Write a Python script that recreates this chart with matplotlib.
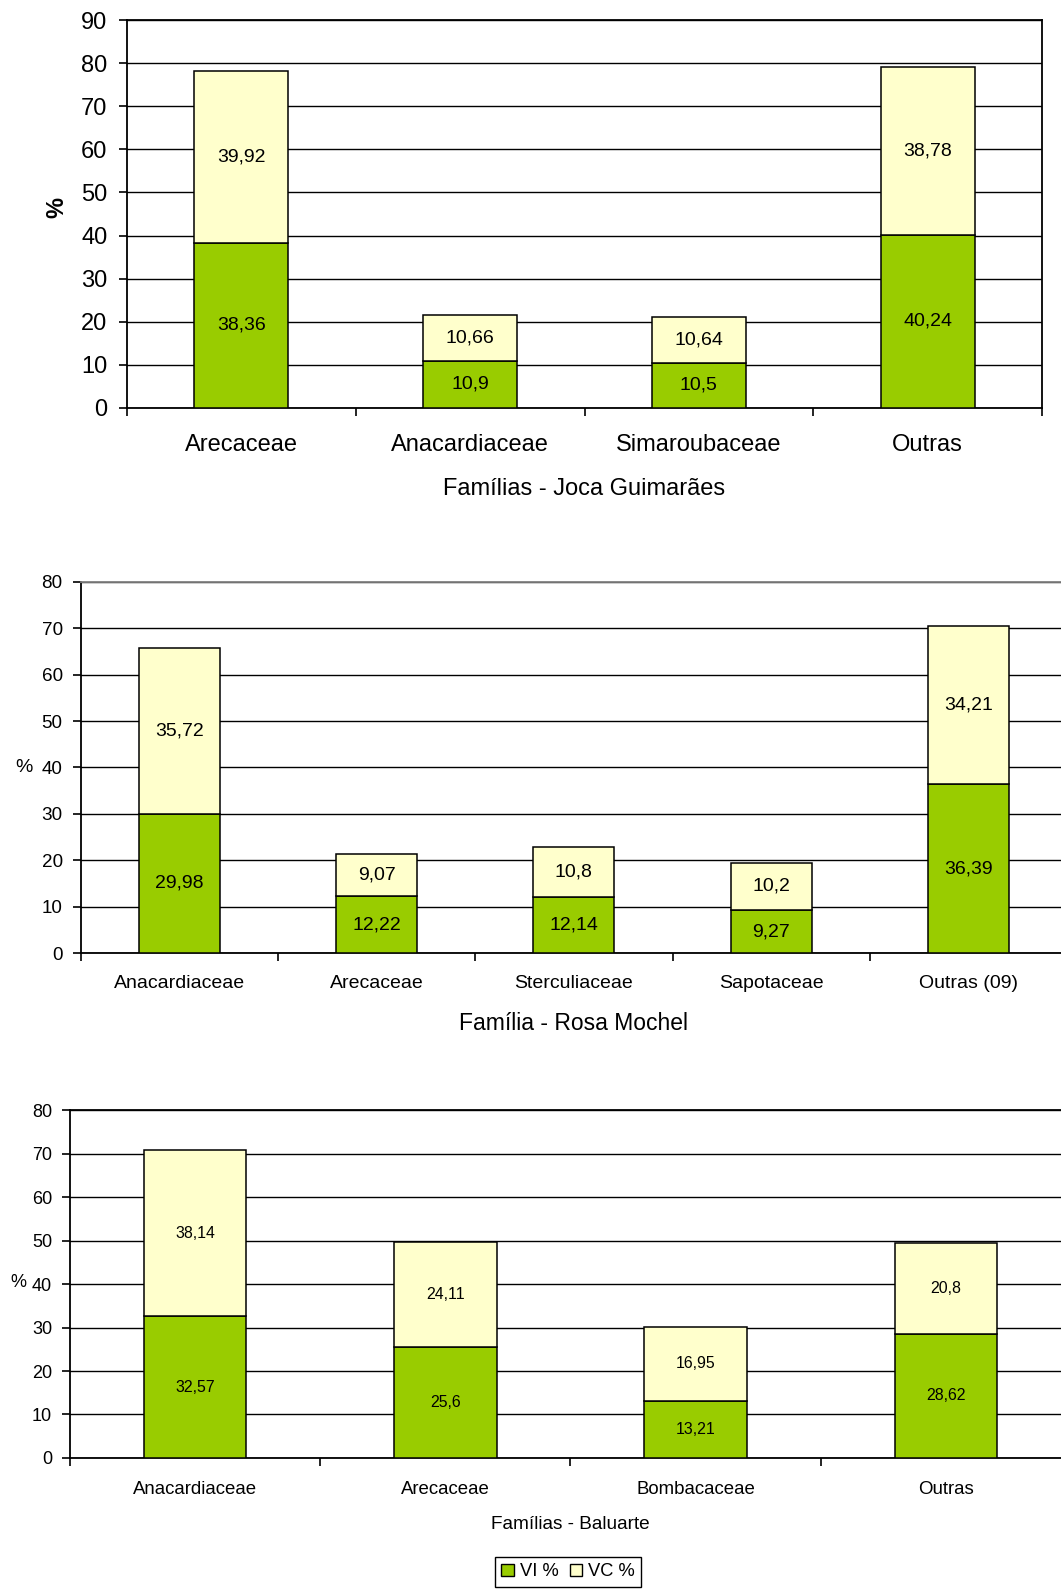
import numpy as np
import matplotlib.pyplot as plt
from matplotlib.patches import Patch

plt.rcParams['font.family'] = ['Liberation Sans', 'DejaVu Sans']

green = '#99CC00'
cream = '#FFFFCC'

# Joca Guimarães
cats_joca = ['Arecaceae', 'Anacardiaceae', 'Simaroubaceae', 'Outras']
vi_joca = [38.36, 10.9, 10.5, 40.24]
vc_joca = [39.92, 10.66, 10.64, 38.78]

# Rosa Mochel
cats_rosa = ['Anacardiaceae', 'Arecaceae', 'Sterculiaceae', 'Sapotaceae', 'Outras (09)']
vi_rosa = [29.98, 12.22, 12.14, 9.27, 36.39]
vc_rosa = [35.72, 9.07, 10.8, 10.2, 34.21]

# Baluarte
cats_bal = ['Anacardiaceae', 'Arecaceae', 'Bombacaceae', 'Outras']
vi_bal = [32.57, 25.6, 13.21, 28.62]
vc_bal = [38.14, 24.11, 16.95, 20.8]


def fmt(v):
    return f'{v:g}'.replace('.', ',')


def stacked(ax, cats, vi, vc, ymax, tick_fs, cat_fs, val_fs, cat_pad, tick_pad):
    x = np.arange(len(cats))
    vi = np.array(vi)
    vc = np.array(vc)
    ax.bar(x, vi, 0.41, color=green, edgecolor='black', lw=1.1, zorder=3)
    ax.bar(x, vc, 0.41, bottom=vi, color=cream, edgecolor='black', lw=1.1, zorder=3)
    for xi, a, b in zip(x, vi, vc):
        ax.text(xi, a / 2, fmt(a), ha='center', va='center', fontsize=val_fs, zorder=4)
        ax.text(xi, a + b / 2, fmt(b), ha='center', va='center', fontsize=val_fs, zorder=4)
    ax.set_xlim(-0.5, len(cats) - 0.5)
    ax.set_ylim(0, ymax)
    ax.set_yticks(np.arange(0, ymax + 1, 10))
    ax.set_xticks(x)
    ax.set_xticklabels(cats)
    ax.set_xticks(np.arange(len(cats) + 1) - 0.5, minor=True)
    ax.tick_params(axis='x', which='major', length=0, pad=cat_pad, labelsize=cat_fs)
    ax.tick_params(axis='x', which='minor', length=6, width=1.2, direction='out')
    ax.tick_params(axis='y', length=6, width=1.2, pad=tick_pad, labelsize=tick_fs)
    ax.yaxis.grid(True, color='black', lw=1.0)
    ax.set_axisbelow(True)
    for s in ax.spines.values():
        s.set_color('black')
        s.set_linewidth(1.3)


fig = plt.figure(figsize=(10.61, 15.91), dpi=100)

# top chart
ax1 = fig.add_axes([0.1197, 0.7436, 0.8624, 0.2438])
stacked(ax1, cats_joca, vi_joca, vc_joca, 90, 17, 17, 14, 18.5, 8)
ax1.text(-0.0765, 0.518, '%', transform=ax1.transAxes, rotation=90,
         ha='center', va='center', fontsize=17, fontweight='bold')
ax1.text(0.5, -0.208, 'Famílias - Joca Guimarães', transform=ax1.transAxes,
         ha='center', va='center', fontsize=17)

# middle chart
ax2 = fig.add_axes([0.0761, 0.4010, 0.9296, 0.2332])
stacked(ax2, cats_rosa, vi_rosa, vc_rosa, 80, 13.6, 14, 14, 15.6, 7)
ax2.spines['top'].set_color('#808080')
ax2.text(-0.0575, 0.4987, '%', transform=ax2.transAxes,
         ha='center', va='center', fontsize=14)
ax2.text(0.5, -0.189, 'Família - Rosa Mochel', transform=ax2.transAxes,
         ha='center', va='center', fontsize=16.5)

# bottom chart
ax3 = fig.add_axes([0.0660, 0.0836, 0.9434, 0.2187])
stacked(ax3, cats_bal, vi_bal, vc_bal, 80, 13, 13.4, 11.4, 16.6, 7)
ax3.text(-0.052, 0.503, '%', transform=ax3.transAxes,
         ha='center', va='center', fontsize=13)
ax3.text(0.5, -0.19, 'Famílias - Baluarte', transform=ax3.transAxes,
         ha='center', va='center', fontsize=13.7)

handles = [Patch(facecolor=green, edgecolor='black', lw=1.0),
           Patch(facecolor=cream, edgecolor='black', lw=1.0)]
leg = fig.legend(handles, ['VI %', 'VC %'], loc='upper center',
                 bbox_to_anchor=(568 / 1061, 1 - 1557 / 1591), ncol=2,
                 fontsize=13.2, fancybox=False, framealpha=1, edgecolor='black',
                 handlelength=0.7, handleheight=0.7, handletextpad=0.3,
                 columnspacing=0.6, borderpad=0.35, borderaxespad=0)
leg.get_frame().set_linewidth(1.0)

fig.savefig('out.png', dpi=100)
